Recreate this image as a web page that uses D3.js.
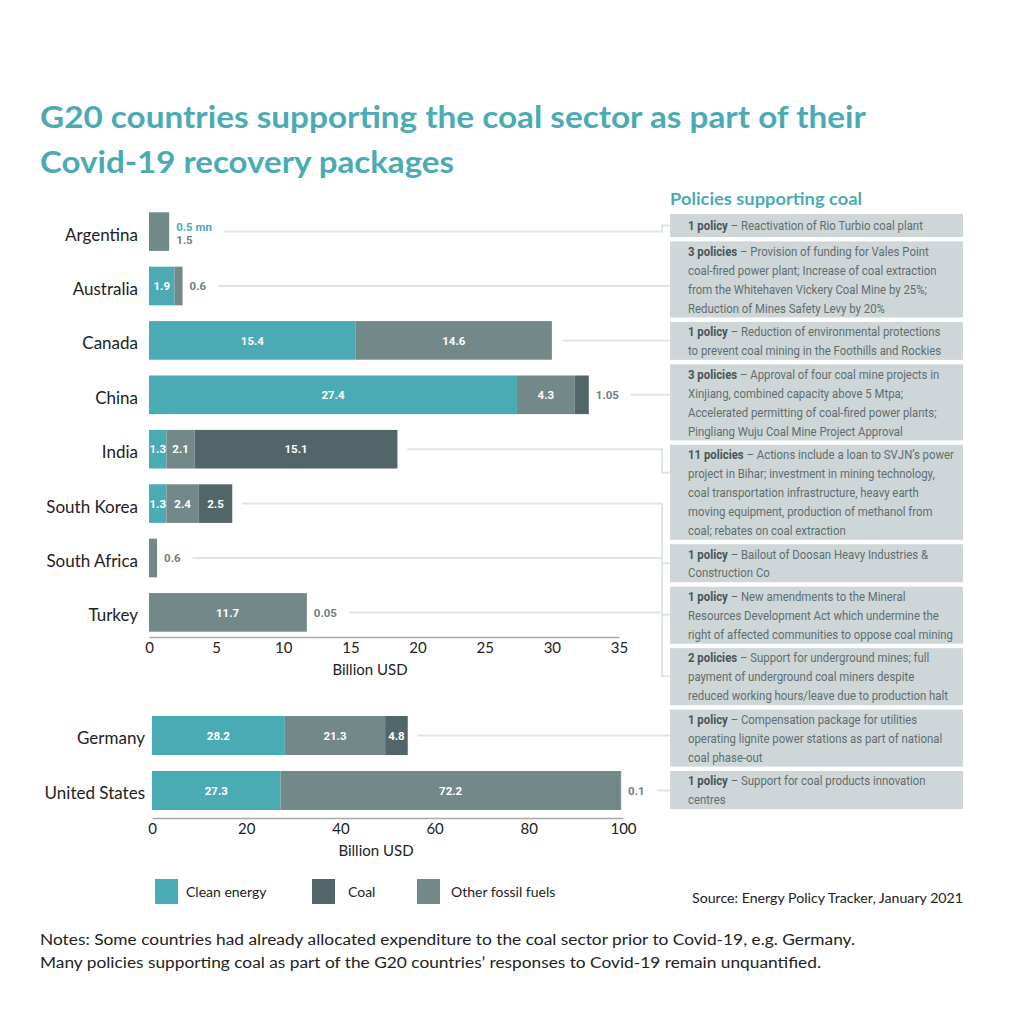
<!DOCTYPE html>
<html><head><meta charset="utf-8">
<script src="https://cdn.jsdelivr.net/npm/d3@7/dist/d3.min.js"></script>
<style>
html,body{margin:0;padding:0;background:#fff;}
svg{display:block;}
</style></head>
<body>
<svg id="c" width="1024" height="1024"></svg>
<script>
// ---------- DATA ----------
const countriesTop = ["Argentina","Australia","Canada","China","India","South Korea","South Africa","Turkey"];
const cleanTop = [0.0005, 1.9, 15.4, 27.4, 1.3, 1.3, 0, 0];
const otherTop = [1.5, 0.6, 14.6, 4.3, 2.1, 2.4, 0.6, 11.7];
const coalTop  = [0, 0, 0, 1.05, 15.1, 2.5, 0, 0.05];
const ticksTop = [0,5,10,15,20,25,30,35];

const countriesBottom = ["Germany","United States"];
const cleanBottom = [28.2, 27.3];
const otherBottom = [21.3, 72.2];
const coalBottom  = [4.8, 0.1];
const ticksBottom = [0,20,40,60,80,100];

const seriesKeys = ["clean","other","coal"];
const legendLabels = ["Clean energy","Coal","Other fossil fuels"];
const legendKeys = ["clean","coal","other"];

const policyCounts = ["1 policy","3 policies","1 policy","3 policies","11 policies","1 policy","1 policy","2 policies","1 policy","1 policy"];
const policyLines = [
 ["Reactivation of Rio Turbio coal plant"],
 ["Provision of funding for Vales Point","coal-fired power plant; Increase of coal extraction","from the Whitehaven Vickery Coal Mine by 25%;","Reduction of Mines Safety Levy by 20%"],
 ["Reduction of environmental protections","to prevent coal mining in the Foothills and Rockies"],
 ["Approval of four coal mine projects in","Xinjiang, combined capacity above 5 Mtpa;","Accelerated permitting of coal-fired power plants;","Pingliang Wuju Coal Mine Project Approval"],
 ["Actions include a loan to SVJN’s power","project in Bihar; investment in mining technology,","coal transportation infrastructure, heavy earth","moving equipment, production of methanol from","coal; rebates on coal extraction"],
 ["Bailout of Doosan Heavy Industries &","Construction Co"],
 ["New amendments to the Mineral","Resources Development Act which undermine the","right of affected communities to oppose coal mining"],
 ["Support for underground mines; full","payment of underground coal miners despite","reduced working hours/leave due to production halt"],
 ["Compensation package for utilities","operating lignite power stations as part of national","coal phase-out"],
 ["Support for coal products innovation","centres"]
];

const titleLines = ["G20 countries supporting the coal sector as part of their","Covid-19 recovery packages"];
const policiesTitle = "Policies supporting coal";
const axisTitle = "Billion USD";
const sourceText = "Source: Energy Policy Tracker, January 2021";
const notesLines = ["Notes: Some countries had already allocated expenditure to the coal sector prior to Covid-19, e.g. Germany.",
 "Many policies supporting coal as part of the G20 countries’ responses to Covid-19 remain unquantified."];

// ---------- STYLE ----------
const colors = {clean:"#4babb4", other:"#738889", coal:"#52666a"};
const teal = "#4babb4";
const outsideGrey = "#6f8082";
const connColor = "#dfe5e5";
const boxFill = "#cfd6d7";
const font = "Lato, 'Open Sans', sans-serif";
const condFont = "Roboto, 'Open Sans', sans-serif";

const svg = d3.select("#c");

function fitWidth(sel, w){
  sel.attr("textLength", w).attr("lengthAdjust","spacingAndGlyphs");
}

// Title
titleLines.forEach((t,i)=>{
  const s = svg.append("text").attr("x",40).attr("y",128+i*45)
    .attr("font-family",font).attr("font-weight",700).attr("font-size",31)
    .attr("fill",teal).text(t);
  fitWidth(s, i===0 ? 826 : 414);
});

function makeRows(countries, clean, other, coal){
  return countries.map((c,i)=>({country:c, clean:clean[i], other:other[i], coal:coal[i]}));
}
const rowsTop = makeRows(countriesTop, cleanTop, otherTop, coalTop);
const rowsBottom = makeRows(countriesBottom, cleanBottom, otherBottom, coalBottom);

function fmt(v){ return v < 0.01 ? (v*1000) + " mn" : String(v); }

const connectorStarts = [];

function drawChart(rows, x, y, ticks, axisY, labelRight, titlePos){
  const g = svg.append("g");
  const stack = d3.stack().keys(seriesKeys)(rows);
  stack.forEach(layer=>{
    g.selectAll(null).data(layer.filter(d=>d[1]-d[0]>0)).enter().append("rect")
      .attr("x",d=>x(d[0])).attr("y",d=>y(d.data.country))
      .attr("width",d=>Math.max(0.5,x(d[1])-x(d[0])))
      .attr("height",y.bandwidth())
      .attr("fill",colors[layer.key]);
  });
  rows.forEach(r=>{
    const cy = y(r.country) + y.bandwidth()/2;
    const total = r.clean + r.other + r.coal;
    const totalPx = x(total) - x(0);
    let acc = 0; const outside = [];
    seriesKeys.forEach(k=>{
      const v = r[k]; if(v<=0) return;
      const px = x(acc+v)-x(acc);
      if(px < 16 || totalPx < 24){ outside.push({k,v}); }
      else {
        g.append("text").attr("x",(x(acc)+x(acc+v))/2).attr("y",cy).attr("dy","0.36em")
          .attr("text-anchor","middle").attr("font-family",condFont).attr("font-weight",700)
          .attr("font-size",11.5).attr("fill","#fff").text(fmt(v));
      }
      acc += v;
    });
    let endX = x(total) + 10;
    const offs = outside.length===2 ? [-5,8] : [0];
    outside.forEach((o,j)=>{
      const t = g.append("text").attr("x",x(total)+7).attr("y",cy+offs[j]).attr("dy","0.36em")
        .attr("font-family",condFont).attr("font-weight",700).attr("font-size",11.5)
        .attr("fill", o.k==="clean" ? teal : outsideGrey).text(fmt(o.v));
      endX = Math.max(endX, x(total)+7+t.node().getComputedTextLength()+12);
    });
    connectorStarts.push({x:endX, y:cy});
    g.append("text").attr("x",labelRight).attr("y",cy+3).attr("dy","0.35em").attr("text-anchor","end")
      .attr("font-family",font).attr("font-size",17).attr("fill","#222").text(r.country);
  });
  const ax = g.append("g").attr("transform",`translate(0,${axisY})`)
    .call(d3.axisBottom(x).tickValues(ticks).tickSize(0).tickPadding(5).tickFormat(d3.format("d")));
  ax.select(".domain").attr("stroke","#a8a8a8").attr("stroke-width",1.5);
  ax.selectAll("text").attr("font-family",font).attr("font-size",15).attr("fill","#222");
  g.append("text").attr("x",titlePos[0]).attr("y",titlePos[1]).attr("text-anchor","middle")
    .attr("font-family",font).attr("font-size",15).attr("fill","#222").text(axisTitle);
}

const xTop = d3.scaleLinear().domain([0,35]).range([149,619]);
const yTop = d3.scaleBand().domain(countriesTop).range([204.4,639.6]).paddingInner(0.29).paddingOuter(0.145);
const xBot = d3.scaleLinear().domain([0,100]).range([152,623]);
const yBot = d3.scaleBand().domain(countriesBottom).range([708,818]).paddingInner(0.29).paddingOuter(0.145);

const connG = svg.append("g");

drawChart(rowsTop, xTop, yTop, ticksTop, 637, 138, [370,675]);
drawChart(rowsBottom, xBot, yBot, ticksBottom, 818, 145, [376,856]);

// ---------- POLICY BOXES ----------
const boxX = 670, boxW = 293, textX = 688;
svg.append("text").attr("x",boxX).attr("y",205).attr("font-family",font).attr("font-weight",700)
  .attr("font-size",17).attr("fill",teal).text(policiesTitle).call(s=>fitWidth(s,192));

const boxG = svg.append("g");
let by = 214;
const boxes = [];
policyLines.forEach((lines,i)=>{
  const n = lines.length;
  const h = Math.max(n*19, 23);
  boxes.push({top:by, h});
  boxG.append("rect").attr("x",boxX).attr("y",by).attr("width",boxW).attr("height",h).attr("fill",boxFill);
  by += h + 4.45;
});
const tg = boxG.append("g");
const allTexts = [];
policyLines.forEach((lines,i)=>{
  const b = boxes[i];
  const n = lines.length;
  lines.forEach((ln,j)=>{
    const cy = b.top + b.h/2 + (j - (n-1)/2)*19;
    const t = tg.append("text").attr("x",0).attr("y",cy).attr("dy","0.36em")
      .attr("font-family",condFont).attr("font-size",13.2).attr("fill","#5e6e70");
    if(j===0){
      t.append("tspan").attr("font-weight",700).attr("fill","#46565a").text(policyCounts[i]);
      t.append("tspan").text(" – " + ln);
    } else t.text(ln);
    allTexts.push(t);
  });
});
const maxW = d3.max(allTexts, t=>t.node().getComputedTextLength());
const sc = Math.min(1, 266/maxW);
tg.attr("transform",`translate(${textX},0) scale(${sc},1)`);

// connectors
connectorStarts.forEach((c,i)=>{
  const b = boxes[i];
  const m = Math.min(28, b.h/2);
  const ty = Math.max(b.top+m, Math.min(b.top+b.h-m, c.y));
  const path = Math.abs(ty-c.y) < 4
    ? `M${c.x},${c.y}H${boxX}`
    : `M${c.x},${c.y}H662V${ty}H${boxX}`;
  connG.append("path").attr("d",path).attr("fill","none").attr("stroke",connColor).attr("stroke-width",2);
});

// ---------- LEGEND ----------
const legX = [155,312,417], legTX = [186,348,451];
legendKeys.forEach((k,i)=>{
  svg.append("rect").attr("x",legX[i]).attr("y",879).attr("width",23).attr("height",25).attr("fill",colors[k]);
  svg.append("text").attr("x",legTX[i]).attr("y",892).attr("dy","0.35em").attr("font-family",font)
    .attr("font-size",14).attr("fill","#222").text(legendLabels[i]);
});

// Source
svg.append("text").attr("x",963).attr("y",898).attr("dy","0.35em").attr("text-anchor","end")
  .attr("font-family",font).attr("font-size",14).attr("fill","#222").text(sourceText)
  .call(s=>fitWidth(s,271));

// Notes
notesLines.forEach((t,i)=>{
  const s = svg.append("text").attr("x",40).attr("y",940+i*23).attr("dy","0.35em")
    .attr("font-family",font).attr("font-size",15.5).attr("fill","#222").text(t);
  fitWidth(s, i===0 ? 815 : 781);
});
</script>
</body></html>
